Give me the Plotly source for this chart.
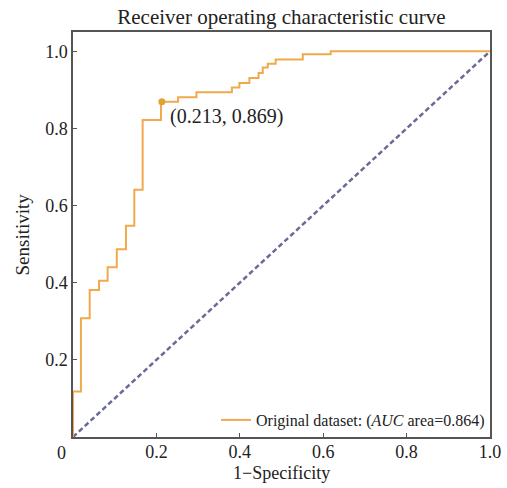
import plotly.graph_objects as go

# ROC curve corner points (step curve, horizontal-then-vertical)
fpr = [0.0, 0.0, 0.019, 0.040, 0.0625, 0.083, 0.105, 0.127, 0.147, 0.167, 0.211,
       0.252, 0.296, 0.381, 0.399, 0.423, 0.445, 0.455, 0.467, 0.486, 0.551, 0.618, 1.0]
tpr = [0.0, 0.118, 0.308, 0.381, 0.405, 0.44, 0.487, 0.548, 0.641, 0.822, 0.869,
       0.881, 0.894, 0.906, 0.918, 0.931, 0.944, 0.958, 0.968, 0.979, 0.992, 1.0, 1.0]
chance_x = [0.0, 1.0]
chance_y = [0.0, 1.0]
best_point = (0.213, 0.869)
x_ticks = [0.2, 0.4, 0.6, 0.8, 1.0]
x_tick_text = ["0.2", "0.4", "0.6", "0.8", "1.0"]
y_ticks = [0.2, 0.4, 0.6, 0.8, 1.0]
y_tick_text = ["0.2", "0.4", "0.6", "0.8", "1.0"]
x_title = "1−Specificity"
y_title = "Sensitivity"
chart_title = "Receiver operating characteristic curve"

FONT = "Liberation Serif"
ORANGE = "#f1a94d"
MARK = "#e2a233"
DIAG = "#6a6a98"
AX = "#555555"
TXT = "#222222"
W, H = 507, 488
ML, MR, MT, MB = 73, 17, 32, 51
PW, PH = W - ML - MR, H - MT - MB

fig = go.Figure()
fig.add_trace(go.Scatter(
    x=chance_x, y=chance_y, mode="lines",
    line=dict(color=DIAG, width=2.5, dash="5px,3px"),
    showlegend=False, hoverinfo="skip"))
fig.add_trace(go.Scatter(
    x=fpr, y=tpr, mode="lines", line_shape="hv",
    line=dict(color=ORANGE, width=2),
    name="Original dataset: (<i>AUC</i> area=0.864)"))
fig.add_trace(go.Scatter(
    x=[best_point[0]], y=[best_point[1]], mode="markers",
    marker=dict(color=MARK, size=7), showlegend=False))

fig.add_annotation(x=best_point[0], y=best_point[1],
                   text="(%.3f, %.3f)" % best_point,
                   xanchor="left", yanchor="top", showarrow=False,
                   xshift=6, yshift=-1,
                   font=dict(family=FONT, size=20, color=TXT))
fig.add_annotation(x=0, y=0, xref="x", yref="y", text="0",
                   xanchor="right", yanchor="top", showarrow=False,
                   xshift=-5, yshift=-4,
                   font=dict(family=FONT, size=18, color=TXT))
# axis titles (paper coords are relative to the plot area)
fig.add_annotation(x=0.5, xref="paper", y=(H - MB - 473) / PH, yref="paper",
                   text=x_title, showarrow=False,
                   xanchor="center", yanchor="middle",
                   font=dict(family=FONT, size=18, color=TXT))
fig.add_annotation(x=(22 - ML) / PW, xref="paper", y=0.5, yref="paper",
                   text=y_title, showarrow=False, textangle=-90,
                   xanchor="center", yanchor="middle",
                   font=dict(family=FONT, size=19, color=TXT))

axis_common = dict(
    showline=True, linecolor=AX, linewidth=1.5, mirror=True,
    ticks="inside", ticklen=4, tickcolor=AX, tickwidth=1.2,
    showgrid=False, zeroline=False, automargin=False,
    tickfont=dict(family=FONT, size=18, color=TXT),
)

fig.update_layout(
    width=W, height=H,
    margin=dict(l=ML, r=MR, t=MT, b=MB),
    paper_bgcolor="white", plot_bgcolor="white",
    title=dict(text=chart_title,
               x=0.555, xanchor="center", y=1 - 17 / H, yanchor="middle",
               font=dict(family=FONT, size=21, color=TXT)),
    xaxis=dict(range=[0, 1], tickvals=x_ticks, ticktext=x_tick_text,
               ticklabelstandoff=-2, **axis_common),
    yaxis=dict(range=[0, 1.05], tickvals=y_ticks, ticktext=y_tick_text, **axis_common),
    legend=dict(x=1, y=0, xanchor="right", yanchor="bottom",
                bgcolor="rgba(0,0,0,0)",
                font=dict(family=FONT, size=16, color=TXT)),
)

fig.write_html("out.html")
